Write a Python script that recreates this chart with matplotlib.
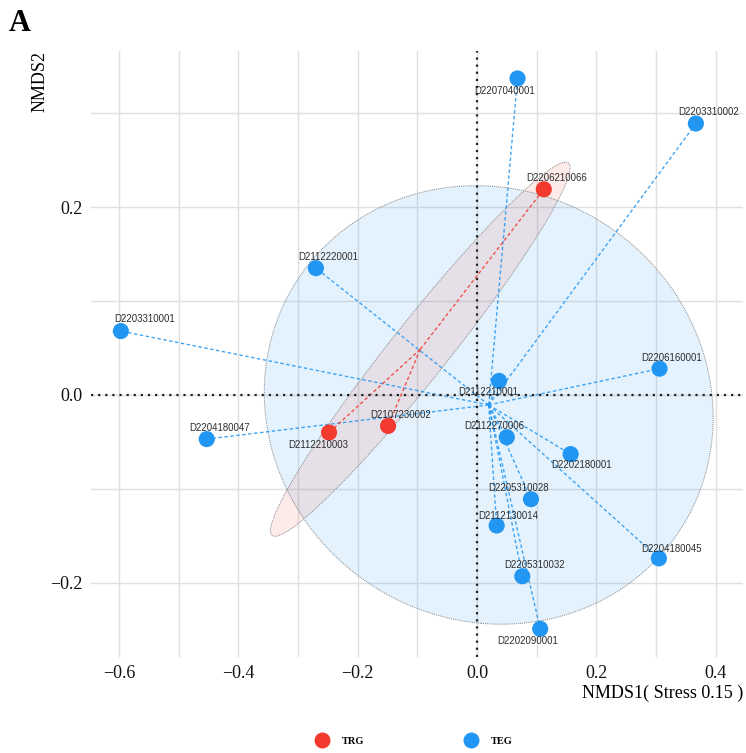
import numpy as np
import matplotlib.pyplot as plt
from matplotlib.lines import Line2D

# NMDS site scores
samples = ['D2206210066', 'D2107230002', 'D2112210003',
           'D2207040001', 'D2203310002', 'D2112220001', 'D2203310001',
           'D2206160001', 'D2112210001', 'D2204180047', 'D2112270006',
           'D2202180001', 'D2205310028', 'D2112130014', 'D2205310032',
           'D2202090001', 'D2204180045']
nmds1 = [0.112, -0.149, -0.248,
         0.068, 0.367, -0.270, -0.597,
         0.306, 0.037, -0.453, 0.050,
         0.157, 0.0905, 0.033, 0.076,
         0.106, 0.305]
nmds2 = [0.219, -0.033, -0.040,
         0.337, 0.289, 0.135, 0.068,
         0.028, 0.015, -0.047, -0.045,
         -0.063, -0.111, -0.139, -0.193,
         -0.249, -0.174]
group = ['TRG'] * 3 + ['TEG'] * 14
stress = 0.15

# label nudges (points) for each sample label
nudge = [(9, 8), (9, 8), (-8, -9),
         (-9, -9), (9, 8), (9, 8), (17, 9),
         (9, 8), (-8, -8), (9, 8), (-9, 8),
         (8, -8), (-9, 8), (8, 7), (9, 8),
         (-9, -9), (9, 7)]

colors = {'TRG': '#F23B2E', 'TEG': '#2196F3'}
ELLIPSE_SCALE = 1.35

x = np.array(nmds1)
y = np.array(nmds2)
g = np.array(group)


def ellipse_xy(xs, ys, scale, n=300):
    cov = np.cov(xs, ys)
    vals, vecs = np.linalg.eigh(cov)
    t = np.linspace(0, 2 * np.pi, n)
    circ = np.vstack([np.cos(t), np.sin(t)])
    pts = vecs @ (np.sqrt(vals)[:, None] * circ) * scale
    return pts[0] + xs.mean(), pts[1] + ys.mean()


fig = plt.figure(figsize=(7.46, 7.53), dpi=100)
ax = fig.add_axes([0.122, 0.1275, 0.874, 0.8045])

# grid (major + minor)
for v in np.arange(-0.6, 0.45, 0.1):
    ax.axvline(v, color='#E0E0E0', lw=1.0, zorder=0)
for v in np.arange(-0.2, 0.35, 0.1):
    ax.axhline(v, color='#E0E0E0', lw=1.0, zorder=0)

# confidence ellipses
for grp in ['TEG', 'TRG']:
    m = g == grp
    ex, ey = ellipse_xy(x[m], y[m], ELLIPSE_SCALE)
    alpha = 0.12 if grp == 'TEG' else 0.10
    ax.fill(ex, ey, color=colors[grp], alpha=alpha, lw=0, zorder=1)
    ax.plot(ex, ey, color='#888888', lw=0.7, ls=(0, (1, 1)), zorder=1.5)

# spider lines to group centroid
for grp in ['TEG', 'TRG']:
    m = g == grp
    cx, cy = x[m].mean(), y[m].mean()
    for xi, yi in zip(x[m], y[m]):
        ax.plot([cx, xi], [cy, yi], color=colors[grp], lw=1.0, alpha=0.85,
                ls=(0, (2.5, 1.8)), zorder=2)

ax.axhline(0, color='#222222', lw=1.6, ls=(0, (1, 2.2)), zorder=2.5)
ax.axvline(0, color='#222222', lw=1.6, ls=(0, (1, 2.2)), zorder=2.5)

for grp in ['TRG', 'TEG']:
    m = g == grp
    ax.scatter(x[m], y[m], s=135, color=colors[grp], edgecolors='none', zorder=3)

for name, xi, yi, (dx, dy) in zip(samples, x, y, nudge):
    ax.annotate(name, (xi, yi), xytext=(dx, dy), textcoords='offset points',
                ha='center', va='center', fontsize=6.9, color='#2b2b2b',
                family='Liberation Sans', zorder=4)

ax.set_xlim(-0.647, 0.446)
ax.set_ylim(-0.279, 0.366)
ax.set_xticks([-0.6, -0.4, -0.2, 0.0, 0.2, 0.4])
ax.set_yticks([-0.2, 0.0, 0.2])
ax.set_xticklabels(['\u22120.6', '\u22120.4', '\u22120.2', '0.0', '0.2', '0.4'])
ax.set_yticklabels(['\u22120.2', '0.0', '0.2'])
ax.tick_params(length=0, labelsize=13, labelcolor='#111111', pad=6)
for lab in ax.get_xticklabels() + ax.get_yticklabels():
    lab.set_family('Liberation Serif')
for s in ax.spines.values():
    s.set_visible(False)

ax.set_xlabel('NMDS1( Stress %.2f )' % stress, fontsize=13, family='Liberation Serif',
              loc='right', labelpad=2)
ax.set_ylabel('NMDS2', fontsize=13, family='Liberation Serif', loc='top', labelpad=1)

fig.text(0.012, 0.988, 'A', fontsize=22, fontweight='bold', family='Liberation Serif',
         va='top', ha='left')

handles = [Line2D([], [], marker='o', ls='', markersize=11.5, color=colors[k],
                  markeredgewidth=0) for k in ['TRG', 'TEG']]
fig.legend(handles, ['TRG', 'TEG'], ncol=2, frameon=False, loc='center',
           bbox_to_anchor=(0.556, 0.016), handlelength=1.0, handletextpad=1.4,
           columnspacing=9.8, prop={'family': 'Liberation Serif', 'weight': 'bold', 'size': 7.5})

fig.savefig('out.png', dpi=100)
